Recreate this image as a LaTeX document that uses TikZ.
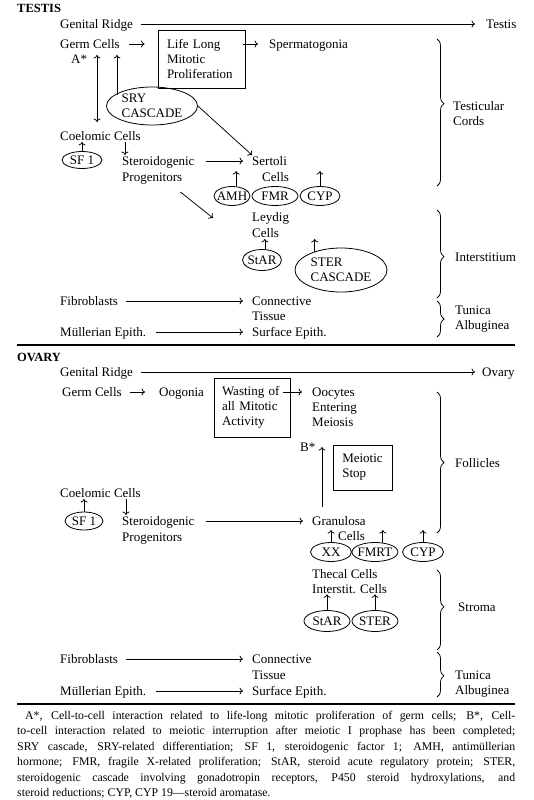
\documentclass[tikz,border=0pt]{standalone}
\usepackage{fontspec}
\setmainfont{Liberation Serif}
\usetikzlibrary{arrows.meta, calc, shapes.geometric, decorations.pathreplacing}
\tikzset{
  txt/.style={inner sep=0pt, anchor=west, text height=10pt, text depth=1.5pt, font=\fontsize{13}{15}\selectfont},
  txtml/.style={inner sep=0pt, anchor=west, align=left, font=\fontsize{13}{15}\selectfont},
  sechead/.style={inner sep=0pt, anchor=west, font=\fontsize{12.5}{15}\selectfont\bfseries},
  stepbox/.style={draw, line width=0.9pt, inner xsep=9pt, inner ysep=0pt, align=left, font=\fontsize{13}{15}\selectfont},
  gene/.style={draw, ellipse, line width=0.8pt, inner sep=0pt, minimum height=19pt},
  every label/.style={inner sep=0pt, align=left, font=\fontsize{13}{15}\selectfont},
  flow/.style={-{To[length=3.5pt,width=7pt]}, line width=0.75pt},
  twoway/.style={{To[length=3.5pt,width=7pt]}-{To[length=3.5pt,width=7pt]}, line width=0.75pt},
  brc/.style={decorate, decoration={brace, amplitude=7pt, aspect=#1}, line width=0.75pt},
  brc/.default=0.5,
  rulebar/.style={line width=1.6pt}
}
\begin{document}
\begin{tikzpicture}[x=1pt, y=-1pt]
\useasboundingbox (0,0) rectangle (533,800);
\fill[white] (0,0) rectangle (533,800);

\node[sechead] (ttitle) at (17,8) {TESTIS};
\node[txt] (tgr) at (60,24) {Genital Ridge};
\node[txt] (ttestis) at (486,24) {Testis};
\node[txt] (tgerm) at (60,44) {Germ Cells};
\node[stepbox, minimum width=87pt, minimum height=58pt, text width=69pt] (tlife) at (201.5,59) {Life Long\\Mitotic\\Proliferation};
\node[txt] (tsperm) at (269,44) {Spermatogonia};
\node[txt] (tastar) at (71,59) {A*};
\node[gene, minimum width=91pt, minimum height=38pt, label={center:SRY\\CASCADE}] (tsry) at (152,106) {};
\node[txt] (tcoel) at (60,136) {Coelomic Cells};
\node[gene, minimum width=40pt, minimum height=17pt, label={center:SF 1}] (tsf) at (82,160) {};
\node[txt] (tsteroid) at (122,161) {Steroidogenic};
\node[txt] (tprog) at (122,177) {Progenitors};
\node[txt] (tsert) at (252,161) {Sertoli};
\node[txt] (tsertc) at (262,177) {Cells};
\node[gene, minimum width=36pt, label={center:AMH}] (tamh) at (232,196) {};
\node[gene, minimum width=46pt, label={center:FMR}] (tfmr) at (275,196) {};
\node[gene, minimum width=40pt, label={center:CYP}] (tcyp) at (320,196) {};
\node[txt] (tley) at (252,217) {Leydig};
\node[txt] (tleyc) at (252,233) {Cells};
\node[gene, minimum width=39pt, minimum height=21pt, label={center:StAR}] (tstar) at (262,260) {};
\node[gene, minimum width=92pt, minimum height=44pt, label={center:STER\\CASCADE}] (tstercas) at (341,270) {};
\node[txt] (tfib) at (60,301) {Fibroblasts};
\node[txt] (tconn) at (252,301) {Connective};
\node[txt] (ttiss) at (252,316) {Tissue};
\node[txt] (tmul) at (60,332) {Müllerian Epith.};
\node[txt] (tsurf) at (252,332) {Surface Epith.};

\draw[brc=0.44] (437,39) -- (437,186);
\node[txtml] (tcords) at (453,114) {Testicular\\Cords};
\draw[brc=0.53] (437,210) -- (437,298);
\node[txt] (tinter) at (455,257) {Interstitium};
\draw[brc] (437,301) -- (437,337);
\node[txtml] (ttunica) at (455,319.5) {Tunica\\Albuginea};

\draw[flow, shorten <=8pt, shorten >=11pt] (tgr) -- (ttestis);
\draw[flow, shorten <=9pt, shorten >=13pt] (tgerm) -- (tgerm -| tlife.west);
\draw[flow, shorten <=-2pt, shorten >=11pt] (tsperm -| tlife.east) -- (tsperm);
\draw[twoway] ($(tgerm.west)+(37,11)$) -- ($(tcoel.west)+(37,-14)$);
\draw[flow] ($(tsry)+(-35,-11)$) -- ($(tgerm.west)+(57,11)$);
\draw[flow] (tsry.east) -- (tsert.north west);
\draw[flow] (tsf) -- (tsf |- tcoel.south);
\draw[flow] ($(tcoel.south west)+(65,0)$) -- ($(tsteroid.north west)+(3,0)$);
\draw[flow, shorten <=11pt, shorten >=9pt] (tsteroid) -- (tsert);
\draw[flow] (tamh.67) -- (tamh.67 |- tsertc.north);
\draw[flow] (tcyp) -- (tcyp |- tsertc.north);
\draw[flow] ($(tprog.south east)+(-2,9)$) -- ($(tley.west)+(-39,1)$);
\draw[flow] (tstar.75) -- (tstar.75 |- tleyc.south);
\draw[flow] (tstercas.145) -- (tstercas.145 |- tleyc.south);
\draw[flow, shorten <=8pt, shorten >=9pt] (tfib) -- (tconn);
\draw[flow, shorten <=10pt, shorten >=9pt] (tmul) -- (tsurf);

\draw[rulebar] (17,345) -- (515,345);

\node[sechead] (otitle) at (17,357) {OVARY};
\node[txt] (ogr) at (60,372) {Genital Ridge};
\node[txt] (oovary) at (482,372) {Ovary};
\node[txt] (ogerm) at (62,392) {Germ Cells};
\node[txt] (oogon) at (159,392) {Oogonia};
\node[stepbox, minimum width=76pt, minimum height=59pt, text width=60pt, inner xsep=8pt] (owaste) at (252,407.5) {Wasting of\\all Mitotic\\Activity};
\node[txt] (oocy) at (312,392) {Oocytes};
\node[txtml] (oent) at (312,414.5) {Entering\\Meiosis};
\node[txt] (obstar) at (300,447) {B*};
\node[stepbox, minimum width=59pt, minimum height=45pt] (omeio) at (362.5,467.5) {Meiotic\\Stop};
\node[txt] (ocoel) at (60,493) {Coelomic Cells};
\node[gene, minimum width=38pt, minimum height=18pt, label={center:SF 1}] (osf) at (84,521) {};
\node[txt] (osteroid) at (122,521) {Steroidogenic};
\node[txt] (oprog) at (122,537) {Progenitors};
\node[txt] (ogran) at (312,521) {Granulosa};
\node[txt] (ogranc) at (338,536) {Cells};
\node[gene, minimum width=41pt, label={center:XX}] (oxx) at (331,552) {};
\node[gene, minimum width=46pt, label={center:FMRT}] (ofmrt) at (375,552) {};
\node[gene, minimum width=41pt, label={center:CYP}] (ocyp) at (423,552) {};
\node[txtml] (otheca) at (312,582) {Thecal Cells\\Interstit. Cells};
\node[gene, minimum width=46pt, minimum height=21pt, label={center:StAR}] (ostar) at (327,621) {};
\node[gene, minimum width=46pt, minimum height=21pt, label={center:STER}] (oster) at (375,621) {};
\node[txt] (ofib) at (60,659) {Fibroblasts};
\node[txt] (oconn) at (252,659) {Connective};
\node[txt] (otiss) at (252,675) {Tissue};
\node[txt] (omul) at (60,691) {Müllerian Epith.};
\node[txt] (osurf) at (252,691) {Surface Epith.};

\draw[brc] (437,392) -- (437,533);
\node[txt] (ofoll) at (455,463) {Follicles};
\draw[brc=0.46] (437,570) -- (437,650);
\node[txt] (ostroma) at (458,607) {Stroma};
\draw[brc=0.53] (437,652) -- (437,697);
\node[txtml] (otunica) at (455,684.5) {Tunica\\Albuginea};

\draw[flow, shorten <=8pt, shorten >=7pt] (ogr) -- (oovary);
\draw[flow, shorten <=8pt, shorten >=14pt] (ogerm) -- (oogon);
\draw[flow, shorten <=-7pt, shorten >=10pt] (oocy -| owaste.east) -- (oocy);
\draw[flow] ($(ogran.north west)+(10,-8)$) -- ($(ogran.north west)+(10,-68)$);
\draw[flow] (osf) -- (osf |- ocoel.south);
\draw[flow] ($(ocoel.south west)+(66,0)$) -- ($(osteroid.north west)+(4,0)$);
\draw[flow, shorten <=11pt, shorten >=9pt] (osteroid) -- (ogran);
\draw[flow] (oxx) -- (oxx |- ogranc.north);
\draw[flow] (ofmrt.50) -- (ofmrt.50 |- ogranc.north);
\draw[flow] (ocyp) -- (ocyp |- ogranc.north);
\draw[flow] (ostar) -- (ostar |- otheca.south);
\draw[flow] (oster) -- (oster |- otheca.south);
\draw[flow, shorten <=8pt, shorten >=9pt] (ofib) -- (oconn);
\draw[flow, shorten <=10pt, shorten >=9pt] (omul) -- (osurf);

\draw[rulebar] (17,704) -- (515,704);

\node[anchor=north west, inner sep=0pt, text width=498pt, align=justify, font=\fontsize{11.8}{15.4}\selectfont] (note) at (17,711) {\hspace*{8pt}A*, Cell-to-cell interaction related to life-long mitotic proliferation of germ cells; B*, Cell-\linebreak to-cell interaction related to meiotic interruption after meiotic I prophase has been completed;\linebreak SRY cascade, SRY-related differentiation; SF 1, steroidogenic factor 1; AMH, antimüllerian\linebreak hormone; FMR, fragile X-related proliferation; StAR, steroid acute regulatory protein; STER,\linebreak steroidogenic cascade involving gonadotropin receptors, P450 steroid hydroxylations, and\linebreak steroid reductions; CYP, CYP 19---steroid aromatase.};
\end{tikzpicture}
\end{document}
